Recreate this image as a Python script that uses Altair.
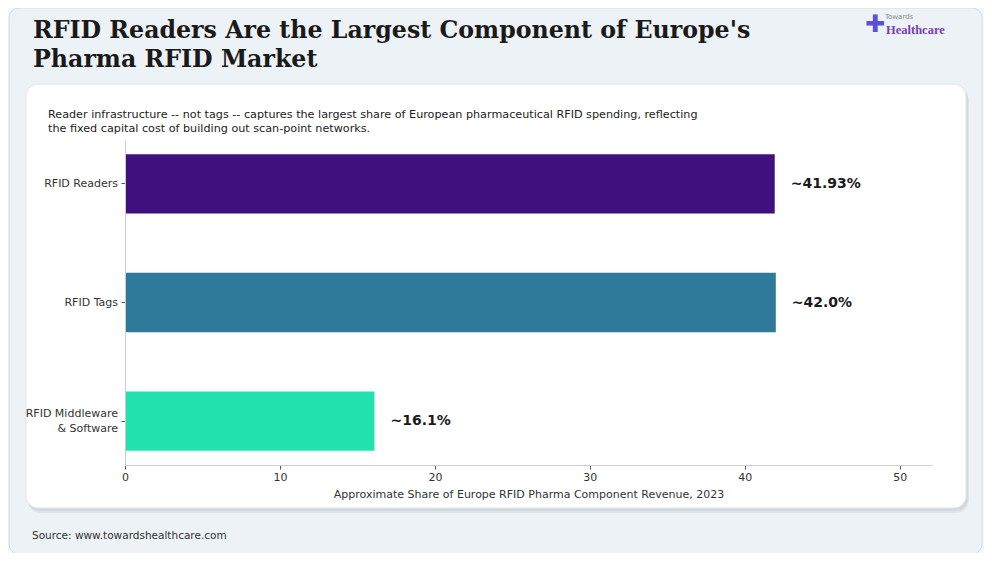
import altair as alt
import pandas as pd

categories = ["RFID Readers", "RFID Tags", "RFID Middleware & Software"]
shares = [41.93, 42.0, 16.1]
value_labels = ["~41.93%", "~42.0%", "~16.1%"]
colors = ["#40107f", "#2f7a9a", "#23e2af"]

# category tick labels as drawn: first line and (optional) second line
tick_line1 = ["RFID Readers", "RFID Tags", "RFID Middleware"]
tick_line2 = ["", "", "& Software"]

title_lines = ["RFID Readers Are the Largest Component of Europe's", "Pharma RFID Market"]
subtitle_lines = [
    "Reader infrastructure -- not tags -- captures the largest share of European pharmaceutical RFID spending, reflecting",
    "the fixed capital cost of building out scan-point networks.",
]
x_title = "Approximate Share of Europe RFID Pharma Component Revenue, 2023"
source_text = "Source: www.towardshealthcare.com"

df = pd.DataFrame({"cat": categories, "share": shares, "label": value_labels, "color": colors,
                   "l1": tick_line1, "l2": tick_line2})
single = df[df["l2"] == ""]
double = df[df["l2"] != ""]

W, H = 807, 325
PL, PT = 117, 132
PR, PB = 976 - PL - W, 545 - PT - H

one = pd.DataFrame({"a": [0]})

def box(x, x2, y, y2, **kw):
    return alt.Chart(one).mark_rect(**kw).encode(
        x=alt.value(x), x2=alt.value(x2), y=alt.value(y), y2=alt.value(y2)
    )

def txt(text, x, y, **kw):
    return alt.Chart(one).mark_text(text=text, **kw).encode(x=alt.value(x), y=alt.value(y))

outer = box(-116, 857, -132, 414, fill="#edf2f6", stroke="#d6dde3", strokeWidth=1, cornerRadius=10)
shadow1 = box(-97, 844, -52, 373, fill="#000000", opacity=0.05, cornerRadius=13)
shadow2 = box(-98, 843, -54, 371, fill="#000000", opacity=0.05, cornerRadius=12)
card = box(-99, 841, -56, 368, fill="#ffffff", stroke="#dfe4e8", strokeWidth=1, cornerRadius=12)

title1 = txt(title_lines[0], -92, -102, font="DejaVu Serif", fontSize=23.7, fontWeight="bold",
             color="#1a1a1a", align="left", baseline="alphabetic")
title2 = txt(title_lines[1], -92, -73, font="DejaVu Serif", fontSize=23.7, fontWeight="bold",
             color="#1a1a1a", align="left", baseline="alphabetic")
sub1 = txt(subtitle_lines[0], -77, -22, font="DejaVu Sans", fontSize=11.2, color="#222222",
           align="left", baseline="alphabetic")
sub2 = txt(subtitle_lines[1], -77, -8, font="DejaVu Sans", fontSize=11.2, color="#222222",
           align="left", baseline="alphabetic")
src = txt(source_text, -93, 399, font="DejaVu Sans", fontSize=10.5, color="#333333",
          align="left", baseline="alphabetic")

logo_cross = txt("✚", 750, -115, font="DejaVu Sans", fontSize=24, color="#5b4fd6",
                 align="center", baseline="middle")
logo_top = txt("Towards", 760, -121, font="DejaVu Sans", fontSize=7, color="#8a8a9a",
               align="left", baseline="alphabetic")
logo_main = txt("Healthcare", 761, -106, font="Liberation Serif", fontSize=12.5, fontWeight="bold",
                color="#7a3fb8", align="left", baseline="alphabetic")

y_enc = alt.Y(
    "cat:N",
    sort=categories,
    scale=alt.Scale(paddingInner=0.5, paddingOuter=0.12),
    axis=alt.Axis(
        title=None,
        labels=False,
        tickColor="#555555",
        tickSize=4,
        domainColor="#cccccc",
        zindex=1,
    ),
)
x_enc = alt.X(
    "share:Q",
    scale=alt.Scale(domain=[0, 52.08], nice=False),
    axis=alt.Axis(
        title=x_title,
        values=[0, 10, 20, 30, 40, 50],
        grid=False,
        labelFlush=False,
        labelFont="DejaVu Sans",
        labelFontSize=11,
        labelColor="#333333",
        titleFont="DejaVu Sans",
        titleFontSize=11,
        titleFontWeight="normal",
        titleColor="#333333",
        titlePadding=6,
        tickColor="#555555",
        tickSize=4,
        domainColor="#cccccc",
        zindex=1,
    ),
)

bars = alt.Chart(df).mark_bar().encode(
    x=x_enc,
    y=y_enc,
    color=alt.Color("color:N", scale=None),
)
labels = alt.Chart(df).mark_text(
    align="left", baseline="middle", dx=16, font="DejaVu Sans", fontSize=14,
    fontWeight="bold", color="#1a1a1a"
).encode(
    x=alt.X("share:Q"),
    y=alt.Y("cat:N", sort=categories),
    text="label:N",
)

tick_style = dict(align="right", baseline="middle", font="DejaVu Sans", fontSize=11, color="#333333")
tl_single = alt.Chart(single).mark_text(**tick_style).encode(
    x=alt.value(-7), y=alt.Y("cat:N", sort=categories), text="l1:N")
tl_first = alt.Chart(double).mark_text(dy=-7.5, **tick_style).encode(
    x=alt.value(-7), y=alt.Y("cat:N", sort=categories), text="l1:N")
tl_second = alt.Chart(double).mark_text(dy=7.5, **tick_style).encode(
    x=alt.value(-7), y=alt.Y("cat:N", sort=categories), text="l2:N")

chart = alt.layer(
    outer, shadow1, shadow2, card,
    title1, title2, sub1, sub2, src,
    logo_cross, logo_top, logo_main,
    bars, labels, tl_single, tl_first, tl_second,
).properties(
    width=W, height=H,
    padding={"left": PL, "top": PT, "right": PR, "bottom": PB},
    autosize=alt.AutoSizeParams(type="none"),
    background="#f4f7f9",
).configure_view(stroke=None)

chart.save("out.html", embed_options={"renderer": "svg", "actions": False})
